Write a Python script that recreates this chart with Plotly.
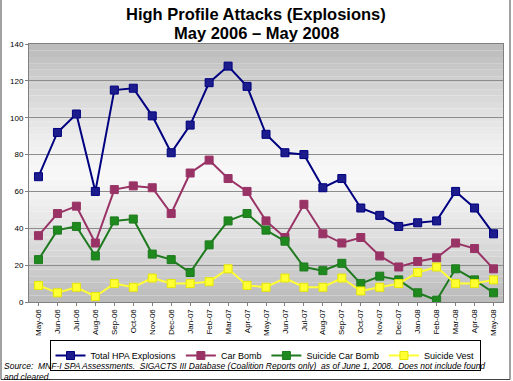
import plotly.graph_objects as go

months = ["May-06","Jun-06","Jul-06","Aug-06","Sep-06","Oct-06","Nov-06","Dec-06",
          "Jan-07","Feb-07","Mar-07","Apr-07","May-07","Jun-07","Jul-07","Aug-07",
          "Sep-07","Oct-07","Nov-07","Dec-07","Jan-08","Feb-08","Mar-08","Apr-08","May-08"]
total_hpa = [68, 92, 102, 60, 115, 116, 101, 81, 96, 119, 128, 117, 91, 81, 80, 62,
             67, 51, 47, 41, 43, 44, 60, 51, 37]
car_bomb = [36, 48, 52, 32, 61, 63, 62, 48, 70, 77, 67, 60, 44, 35, 53, 37,
            32, 35, 25, 19, 22, 24, 32, 29, 18]
suicide_car_bomb = [23, 39, 41, 25, 44, 45, 26, 23, 16, 31, 44, 48, 39, 33, 19, 17,
                    21, 10, 14, 12, 5, 1, 18, 12, 5]
suicide_vest = [9, 5, 8, 3, 10, 8, 13, 10, 10, 11, 18, 9, 8, 13, 8, 8,
                13, 6, 8, 10, 16, 19, 10, 10, 12]
y_ticks = [0, 20, 40, 60, 80, 100, 120, 140]

series = [
    ("Total HPA Explosions", total_hpa, "#000080", "#1c1c8c"),
    ("Car Bomb", car_bomb, "#993366", "#993366"),
    ("Suicide Car Bomb", suicide_car_bomb, "#1f7a1f", "#1e8a1e"),
    ("Suicide Vest", suicide_vest, "#ffff33", "#ffff33"),
]

fig = go.Figure()
for name, vals, lc, mc in series:
    fig.add_trace(go.Scatter(
        x=months, y=vals, name=name, mode="lines+markers",
        line=dict(color=lc, width=2),
        marker=dict(symbol="square", size=8, color=mc,
                    line=dict(color=lc if name != "Suicide Vest" else "#e6e600", width=1)),
    ))

PL, PR, PT, PB = 29, 503, 44, 302
W, H = PR - PL, PB - PT
def px(x):
    return (x - PL) / W
def py(y):
    return (PB - y) / H

# gradient background bands (styling)
shapes = []
n = 40
for i in range(n):
    t = (i + 0.5) / n
    d = abs(t - 0.5) * 2
    g = int(248 - 62 * d ** 1.3)
    col = f"rgb({g},{g},{g})"
    shapes.append(dict(type="rect", xref="x domain", yref="y domain",
                       x0=0, x1=1, y0=i / n, y1=(i + 1) / n,
                       fillcolor=col, line=dict(width=0), layer="below"))

# outer frame
fx0, fx1 = px(1), px(510)
fy0 = py(379.5)
for (x0, x1, y0, y1) in [(fx0, fx0, fy0, py(0)), (fx1, fx1, fy0, py(0)), (fx0, fx1, fy0, fy0)]:
    shapes.append(dict(type="line", xref="paper", yref="paper", x0=x0, x1=x1, y0=y0, y1=y1,
                       line=dict(color="#444", width=1)))

fig.update_layout(
    width=513, height=381,
    margin=dict(l=PL, r=513 - PR, t=PT, b=381 - PB, autoexpand=False),
    paper_bgcolor="white",
    plot_bgcolor="rgba(0,0,0,0)",
    font=dict(family="Liberation Sans, Arial, sans-serif", size=9, color="black"),
    shapes=shapes,
    showlegend=True,
    legend=dict(orientation="h", x=px(265), xanchor="center", y=py(340), yanchor="top",
                bordercolor="black", borderwidth=1, bgcolor="white",
                font=dict(size=9), itemwidth=30, tracegroupgap=0),
    annotations=[
        dict(text="<b>High Profile Attacks (Explosions)</b>",
             xref="paper", yref="paper", x=px(256), y=py(14), xanchor="center", yanchor="middle",
             showarrow=False, font=dict(size=16.5, color="black")),
        dict(text="<b>May 2006 \u2013 May 2008</b>",
             xref="paper", yref="paper", x=px(256), y=py(33), xanchor="center", yanchor="middle",
             showarrow=False, font=dict(size=16.5, color="black")),
        dict(text="<i>Source:  MNF-I SPA Assessments.  SIGACTS III Database (Coalition Reports only)  as of June 1, 2008.  Does not include found<br>and cleared.</i>",
             xref="paper", yref="paper", x=px(2), y=py(359),
             xanchor="left", yanchor="top", align="left", showarrow=False,
             font=dict(size=8.5, color="black"))],
)
fig.update_xaxes(type="category", range=[-0.5, 24.5], tickangle=-90, automargin=False,
                 tickfont=dict(size=8), showgrid=False, showline=True, linecolor="#808080",
                 mirror=True, ticks="outside", ticklen=3, tickcolor="#808080")
fig.update_yaxes(range=[0, 140], tickvals=y_ticks, tickfont=dict(size=8), automargin=False,
                 showgrid=True, gridcolor="#8c8c8c", gridwidth=1, zeroline=False,
                 showline=True, linecolor="#808080", mirror=True, ticks="outside",
                 ticklen=3, tickcolor="#808080")

fig.write_html("out.html", config={"displayModeBar": False},
               post_script="document.body.style.margin='0';document.body.style.overflow='hidden';")
